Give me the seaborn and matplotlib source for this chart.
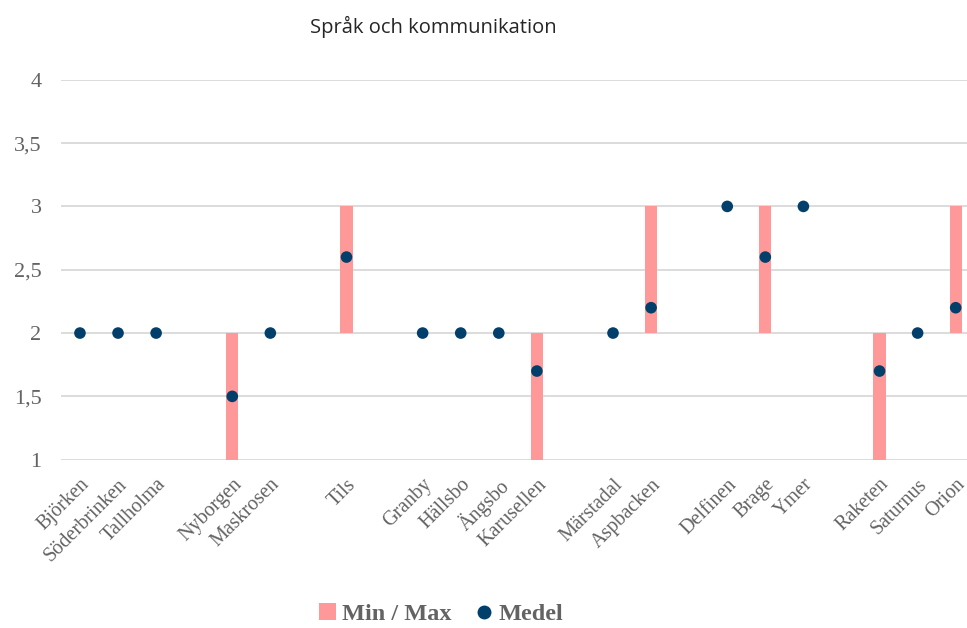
import matplotlib
matplotlib.use("Agg")
import numpy as np
import pandas as pd
import matplotlib.pyplot as plt
from matplotlib.lines import Line2D
from matplotlib.patches import Patch
import seaborn as sns

# Data (None = empty slot between groups)
categories = ["Björken", "Söderbrinken", "Tallholma", None, "Nyborgen", "Maskrosen",
              None, "Tils", None, "Granby", "Hällsbo", "Ängsbo", "Karusellen", None,
              "Märstadal", "Aspbacken", None, "Delfinen", "Brage", "Ymer", None,
              "Raketen", "Saturnus", "Orion"]
medel = [2, 2, 2, None, 1.5, 2, None, 2.6, None, 2, 2, 2, 1.7, None,
         2, 2.2, None, 3, 2.6, 3, None, 1.7, 2, 2.2]
min_vals = [2, 2, 2, None, 1, 2, None, 2, None, 2, 2, 2, 1, None,
            2, 2, None, 3, 2, 3, None, 1, 2, 2]
max_vals = [2, 2, 2, None, 2, 2, None, 3, None, 2, 2, 2, 2, None,
            2, 3, None, 3, 3, 3, None, 2, 2, 3]

# unique blank labels so empty slots stay separate categories
labels = [c if c is not None else " " * (i + 1) for i, c in enumerate(categories)]
df = pd.DataFrame({"skola": labels, "medel": medel, "min": min_vals, "max": max_vals})
df["span"] = (df["max"] - df["min"]).fillna(0)
df["base"] = df["min"].fillna(0)

pink = "#ff9999"
navy = "#033f6b"
grey = "#636363"

sns.set_style("white")
fig = plt.figure(figsize=(9.67, 6.28), dpi=100)
ax = fig.add_axes([0.063, 0.268, 0.945, 0.605])

sns.barplot(data=df, x="skola", y="span", bottom=df["base"], order=labels,
            color=pink, width=0.32, ax=ax, zorder=2, saturation=1, linewidth=0)
sns.scatterplot(data=df.dropna(subset=["medel"]), x="skola", y="medel", color=navy,
                s=70, edgecolor="none", ax=ax, zorder=3)

ax.set_ylim(1, 4)
ax.set_xlim(-0.5, len(labels) - 0.5)
ax.set_yticks(np.arange(1, 4.01, 0.5))
ax.set_yticklabels([f"{v:g}".replace(".", ",") for v in np.arange(1, 4.01, 0.5)],
                   fontfamily="Liberation Serif", fontsize=16, color=grey)
ax.yaxis.grid(True, color="#d9d9d9", linewidth=1.3, zorder=0)
ax.set_axisbelow(True)
for s in ax.spines.values():
    s.set_visible(False)
ax.tick_params(axis="both", length=0)
ax.tick_params(axis="y", pad=14)
ax.set_xticks(range(len(labels)))
ax.set_xticklabels([c if c else "" for c in categories], rotation=45, ha="right",
                   rotation_mode="anchor", fontfamily="Liberation Serif",
                   fontsize=14.5, color=grey)
ax.tick_params(axis="x", pad=11)
ax.set_xlabel("")
ax.set_ylabel("")

fig.text(0.448, 0.957, "Språk och kommunikation", ha="center", va="center",
         fontfamily="Open Sans", fontsize=14.5, color="#262626")

handles = [Patch(facecolor=pink, edgecolor="none", label="Min / Max"),
           Line2D([], [], marker="o", linestyle="", color=navy, markersize=9,
                  label="Medel")]
fig.legend(handles=handles, loc="center", bbox_to_anchor=(0.456, 0.022), ncol=2,
           frameon=False, handlelength=0.7, handleheight=0.7, handletextpad=0.25,
           columnspacing=1.0,
           prop={"family": "Liberation Serif", "weight": "bold", "size": 17.5},
           labelcolor=grey)

fig.savefig("out.png", dpi=100)
